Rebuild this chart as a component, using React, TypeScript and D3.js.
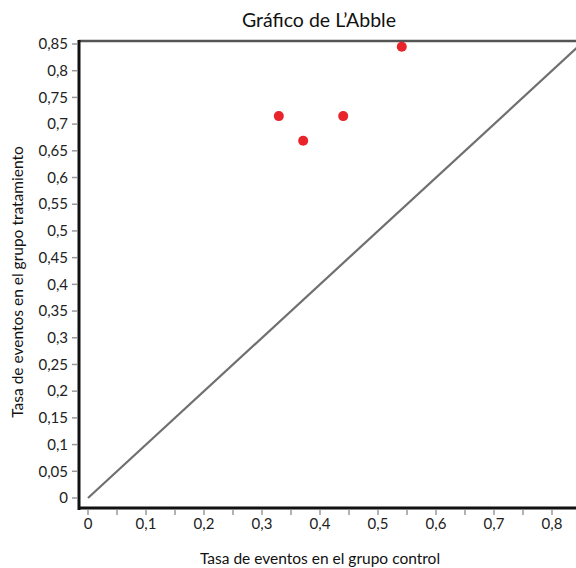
import * as React from 'react';
import * as d3 from 'd3';

const controlRates = [0.329, 0.371, 0.44, 0.541];
const treatmentRates = [0.715, 0.669, 0.715, 0.845];
const yTicks = d3.range(0, 18).map((i) => +(i * 0.05).toFixed(2));
const xTicks = d3.range(0, 9).map((i) => +(i * 0.1).toFixed(1));
const xMinor = d3.range(0, 17).map((i) => +(i * 0.05).toFixed(2));

const fmt = (v: number) => String(v).replace('.', ',');

const App = () => {
  const width = 576;
  const height = 568;
  const x = d3.scaleLinear().domain([0, 0.85]).range([88, 581]);
  const y = d3.scaleLinear().domain([0, 0.85]).range([498, 44]);
  const left = 79;
  const top = 41;
  const bottom = 508;
  const font = "Lato, 'Open Sans', sans-serif";
  const diag = d3.line<number>().x((d) => x(d)).y((d) => y(d));

  return (
    <svg
      width={width}
      height={height}
      style={{ position: 'absolute', left: 0, top: 0, background: '#fff' }}
      fontFamily={font}>
      <text x={319} y={27} textAnchor='middle' fontSize='19.5' fill='#111'>
        Gráfico de L’Abble
      </text>

      {/* diagonal reference line */}
      <path d={diag([0, 0.86]) || ''} stroke='#6f6f6f' strokeWidth={2.2} fill='none' />

      {/* frame */}
      <line x1={left} x2={width} y1={top} y2={top} stroke='#555' strokeWidth={2.5} />
      <line x1={left} x2={left} y1={top - 1} y2={bottom + 2} stroke='#111' strokeWidth={3} />
      <line x1={left - 1} x2={width} y1={bottom} y2={bottom} stroke='#111' strokeWidth={3} />

      {/* y ticks */}
      {yTicks.map((t) => (
        <g key={'y' + t}>
          <line x1={72} x2={77} y1={y(t)} y2={y(t)} stroke='#999' strokeWidth={1.5} />
          <text x={68} y={y(t)} dy='0.35em' textAnchor='end' fontSize='15' fill='#222'>
            {fmt(t)}
          </text>
        </g>
      ))}

      {/* x ticks */}
      {xMinor.map((t) => (
        <line key={'xm' + t} x1={x(t)} x2={x(t)} y1={510} y2={515} stroke='#999' strokeWidth={1.5} />
      ))}
      {xTicks.map((t) => (
        <text key={'x' + t} x={x(t)} y={529} textAnchor='middle' fontSize='15' fill='#222'>
          {fmt(t)}
        </text>
      ))}

      {/* points */}
      {controlRates.map((c, i) => (
        <circle key={i} cx={x(c)} cy={y(treatmentRates[i])} r={5} fill='#e8232a' />
      ))}

      <text x={320} y={564} textAnchor='middle' fontSize='15.5' fill='#111'>
        Tasa de eventos en el grupo control
      </text>
      <text
        transform='translate(23 282) rotate(-90)'
        textAnchor='middle'
        fontSize='15.5'
        fill='#111'>
        Tasa de eventos en el grupo tratamiento
      </text>
    </svg>
  );
};

export default App;
